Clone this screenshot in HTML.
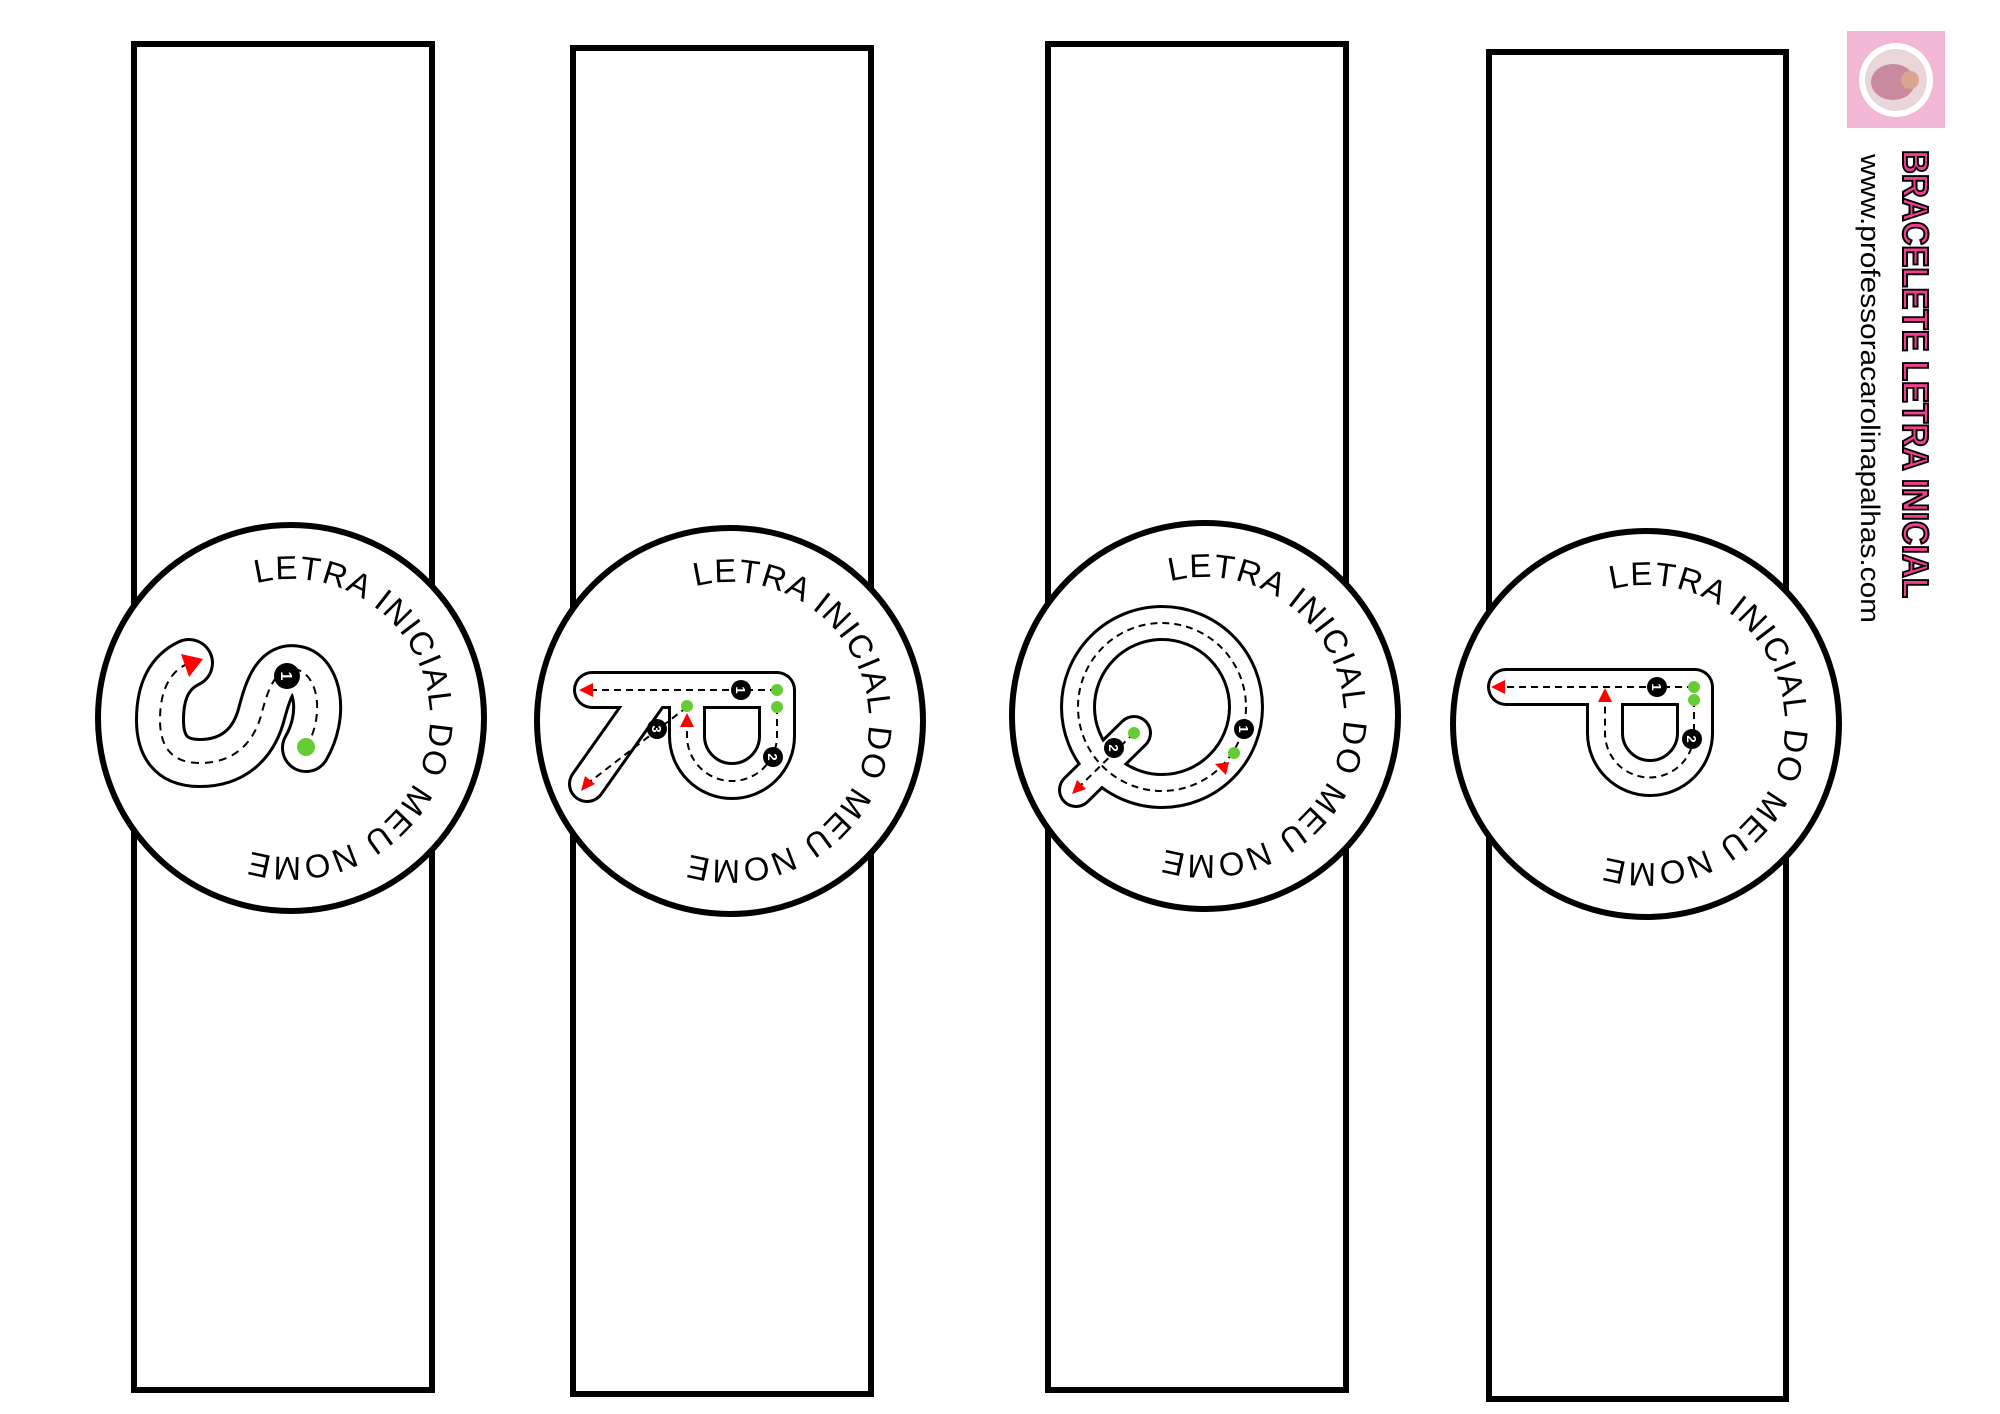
<!DOCTYPE html>
<html><head><meta charset="utf-8"><style>
html,body{margin:0;padding:0;background:#fff}
svg{display:block}
</style></head><body>
<svg width="2000" height="1414" viewBox="0 0 2000 1414" xmlns="http://www.w3.org/2000/svg">
<defs>
<path id="arc" d="M-34.8,-134.6 A139,139 0 1 1 -43,132.2" fill="none"/>
<g id="lab">
<text font-family="Liberation Sans, sans-serif" font-size="33" fill="#000"><textPath href="#arc" textLength="512" lengthAdjust="spacing">LETRA INICIAL DO MEU NOME</textPath></text>
</g>
</defs>
<g fill="#fff" stroke="#000" stroke-width="6">
<rect x="134" y="44" width="298" height="1346"/>
<rect x="573" y="48" width="298" height="1346"/>
<rect x="1048" y="44" width="298" height="1346"/>
<rect x="1489" y="52" width="297" height="1347"/>
<circle cx="291" cy="718" r="193"/>
<circle cx="730" cy="721" r="193"/>
<circle cx="1205" cy="716" r="193"/>
<circle cx="1646" cy="724" r="193"/>
</g>
<use href="#lab" transform="translate(291,718)"/>
<use href="#lab" transform="translate(730,721)"/>
<use href="#lab" transform="translate(1205,716)"/>
<use href="#lab" transform="translate(1646,724)"/>

<!-- S -->
<g fill="none" stroke-linecap="round" stroke-linejoin="round">
<path d="M306,748 C325,715 318,676 298,670 C276,664 268,690 262,712 C254,745 232,763 200,763 C170,763 160,745 160,720 C160,690 170,672 189,663" stroke="#000" stroke-width="50"/>
<path d="M306,748 C325,715 318,676 298,670 C276,664 268,690 262,712 C254,745 232,763 200,763 C170,763 160,745 160,720 C160,690 170,672 189,663" stroke="#fff" stroke-width="44"/>
<path d="M306,748 C325,715 318,676 298,670 C276,664 268,690 262,712 C254,745 232,763 200,763 C170,763 160,745 160,720 C160,690 170,672 187,664" stroke="#000" stroke-width="2" stroke-dasharray="8,6" stroke-linecap="butt"/>
</g>
<circle cx="306" cy="747" r="9" fill="#66cc33"/>
<circle cx="287" cy="676" r="13" fill="#000"/><text x="287" y="682" font-family="Liberation Sans, sans-serif" font-weight="bold" font-size="16" fill="#fff" text-anchor="middle" transform="rotate(90 287 676)">1</text>
<polygon points="203,659 181,654 189,677" fill="#f00"/>

<!-- R -->
<g transform="translate(-3,0)">
<g fill="none" stroke-linejoin="round">
<g stroke="#000" stroke-width="38" stroke-linecap="round">
<path d="M595,690 L780,690 L780,736 A45,45 0 0 1 690,736 L690,690"/>
<path d="M655,692 L590,784"/>
</g>
<g stroke="#fff" stroke-width="32" stroke-linecap="round">
<path d="M595,690 L780,690 L780,736 A45,45 0 0 1 690,736 L690,690"/>
<path d="M655,692 L590,784"/>
</g>
<g stroke="#000" stroke-width="2" stroke-dasharray="7,5">
<path d="M780,690 L592,690"/>
<path d="M780,707 L780,736 A45,45 0 0 1 690,736 L690,718"/>
<path d="M690,707 L590,784"/>
</g>
</g>
<polygon points="582,690 596,683 596,697" fill="#f00"/>
<polygon points="690,713 683,727 697,727" fill="#f00"/>
<polygon points="584,791 588,776 598,784" fill="#f00"/>
<circle cx="780" cy="690" r="6" fill="#66cc33"/><circle cx="780" cy="707" r="6" fill="#66cc33"/><circle cx="690" cy="706" r="6" fill="#66cc33"/>
<g font-family="Liberation Sans, sans-serif" font-weight="bold" font-size="13" fill="#fff" text-anchor="middle">
<circle cx="744" cy="690" r="10" fill="#000"/><text x="744" y="695" transform="rotate(90 744 690)">1</text>
<circle cx="776" cy="757" r="10" fill="#000"/><text x="776" y="762" transform="rotate(90 776 757)">2</text>
<circle cx="660" cy="729" r="10" fill="#000"/><text x="660" y="734" transform="rotate(90 660 729)">3</text>
</g>
</g>

<!-- Q -->
<g transform="translate(-6,-4)">
<g fill="none">
<g stroke="#000" stroke-width="36" stroke-linecap="round"><circle cx="1168" cy="711" r="84"/><path d="M1140,737 L1082,794"/></g>
<g stroke="#fff" stroke-width="30" stroke-linecap="round"><circle cx="1168" cy="711" r="84"/><path d="M1140,737 L1082,794"/></g>
<circle cx="1168" cy="711" r="84" stroke="#000" stroke-width="2" stroke-dasharray="7,5"/>
<path d="M1140,737 L1082,794" stroke="#000" stroke-width="2" stroke-dasharray="7,5"/>
</g>
<circle cx="1140" cy="737" r="6" fill="#66cc33"/><circle cx="1240" cy="757" r="6" fill="#66cc33"/>
<polygon points="1235,766 1221,768 1232,779" fill="#f00"/>
<polygon points="1078,798 1083,784 1092,793" fill="#f00"/>
<g font-family="Liberation Sans, sans-serif" font-weight="bold" font-size="13" fill="#fff" text-anchor="middle">
<circle cx="1250" cy="733" r="10" fill="#000"/><text x="1250" y="738" transform="rotate(90 1250 733)">1</text>
<circle cx="1120" cy="752" r="10" fill="#000"/><text x="1120" y="757" transform="rotate(90 1120 752)">2</text>
</g>
</g>

<!-- P -->
<g transform="translate(-8,-3)">
<g fill="none" stroke-linejoin="round">
<path d="M1514,690 L1703,690 L1703,736 A45,45 0 0 1 1613,736 L1613,690" stroke="#000" stroke-width="38" stroke-linecap="round"/>
<path d="M1514,690 L1703,690 L1703,736 A45,45 0 0 1 1613,736 L1613,690" stroke="#fff" stroke-width="32" stroke-linecap="round"/>
<path d="M1702,690 L1506,690" stroke="#000" stroke-width="2" stroke-dasharray="7,5"/>
<path d="M1702,703 L1702,736 A44,44 0 0 1 1613,736 L1613,700" stroke="#000" stroke-width="2" stroke-dasharray="7,5"/>
</g>
<polygon points="1499,690 1513,683 1513,697" fill="#f00"/>
<polygon points="1613,691 1606,705 1620,705" fill="#f00"/>
<circle cx="1702" cy="690" r="6" fill="#66cc33"/><circle cx="1702" cy="703" r="6" fill="#66cc33"/>
<g font-family="Liberation Sans, sans-serif" font-weight="bold" font-size="13" fill="#fff" text-anchor="middle">
<circle cx="1665" cy="690" r="10" fill="#000"/><text x="1665" y="695" transform="rotate(90 1665 690)">1</text>
<circle cx="1700" cy="742" r="10" fill="#000"/><text x="1700" y="747" transform="rotate(90 1700 742)">2</text>
</g>
</g>

<!-- logo -->
<rect x="1847" y="31" width="98" height="97" fill="#f2b8d6"/>
<circle cx="1896" cy="80" r="37" fill="#fff"/>
<circle cx="1896" cy="80" r="31" fill="#e8d6d8"/>
<ellipse cx="1893" cy="82" rx="18" ry="22" fill="#c98aa0" transform="rotate(90 1893 82)"/>
<circle cx="1910" cy="80" r="9" fill="#d9a58f"/>

<!-- titles -->
<text transform="translate(1903,150) rotate(90)" font-family="Liberation Sans, sans-serif" font-weight="bold" font-size="36" fill="#f0408f" stroke="#000" stroke-width="2" textLength="448" lengthAdjust="spacingAndGlyphs">BRACELETE LETRA INICIAL</text>
<text transform="translate(1861,154) rotate(90)" font-family="Liberation Sans, sans-serif" font-size="27" fill="#000" textLength="469" lengthAdjust="spacingAndGlyphs">www.professoracarolinapalhas.com</text>
</svg>
</body></html>
